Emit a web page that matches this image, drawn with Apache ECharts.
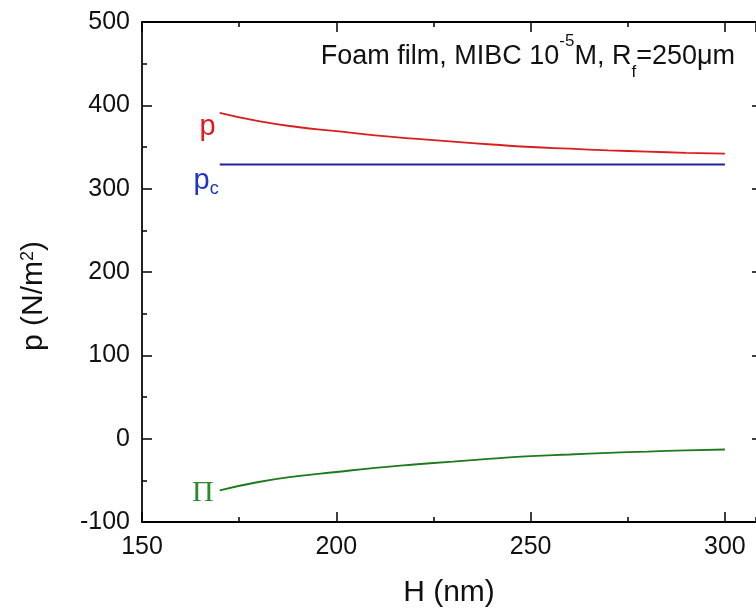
<!DOCTYPE html>
<html>
<head>
<meta charset="utf-8">
<script src="https://cdn.jsdelivr.net/npm/echarts@6/dist/echarts.min.js"></script>
<style>html,body{margin:0;padding:0;background:#fff}#c{width:756px;height:610px}</style>
</head>
<body>
<div id="c"></div>
<script>
// ---- data ----
const H = [170, 180, 190, 200, 210, 220, 230, 240, 250, 260, 270, 280, 290, 300];
const pValues = [391, 381, 374, 369, 364, 360, 356.5, 353, 350, 348, 346, 344.5, 343, 342];
const piValues = [-62, -52, -45, -40, -35, -31, -27.5, -24, -21, -19, -17, -15.5, -14, -13];
const pcH = [170, 300];
const pcValues = [329, 329];
const xTicks = [150, 200, 250, 300];
const yTicks = [-100, 0, 100, 200, 300, 400, 500];

const FONT = 'Liberation Sans, Arial, sans-serif';
const SERIF = 'Liberation Serif, Times New Roman, serif';

function withFirstLabel(xs, ys, label) {
  return xs.map((x, i) => i === 0 ? { value: [x, ys[i]], label: label } : [x, ys[i]]);
}

const gridRect = { left: 142, top: 22, right: 0, bottom: 88, containLabel: false, outerBoundsMode: 'none' };
const xMin = xTicks[0], xMax = 308;
const yMin = yTicks[0], yMax = yTicks[yTicks.length - 1];

const chart = echarts.init(document.getElementById('c'));
const option = {
  animation: false,
  backgroundColor: '#fff',
  grid: [Object.assign({}, gridRect), Object.assign({}, gridRect)],
  xAxis: [
    { gridIndex: 0, type: 'value', position: 'bottom', min: xMin, max: xMax, interval: 50,
      name: 'H (nm)', nameLocation: 'middle', nameGap: 56,
      nameTextStyle: { fontFamily: FONT, fontSize: 30, color: '#111' },
      axisLine: { onZero: false, lineStyle: { color: '#000', width: 2 } },
      axisTick: { inside: true, length: 10, lineStyle: { color: '#000', width: 1.5 } },
      axisLabel: { showMaxLabel: false, fontFamily: FONT, fontSize: 25, color: '#111', margin: 13 },
      splitLine: { show: false } },
    { gridIndex: 0, type: 'value', position: 'top', min: xMin, max: xMax, interval: 50,
      axisLine: { onZero: false, lineStyle: { color: '#000', width: 2 } },
      axisTick: { inside: true, length: 10, lineStyle: { color: '#000', width: 1.5 } },
      axisLabel: { show: false }, splitLine: { show: false } },
    { gridIndex: 1, type: 'value', position: 'bottom', min: xMin, max: xMax, interval: 25,
      axisLine: { show: false, onZero: false },
      axisTick: { inside: true, length: 5, lineStyle: { color: '#000', width: 1.5 } },
      axisLabel: { show: false }, splitLine: { show: false } },
    { gridIndex: 1, type: 'value', position: 'top', min: xMin, max: xMax, interval: 25,
      axisLine: { show: false, onZero: false },
      axisTick: { inside: true, length: 5, lineStyle: { color: '#000', width: 1.5 } },
      axisLabel: { show: false }, splitLine: { show: false } }
  ],
  yAxis: [
    { gridIndex: 0, type: 'value', position: 'left', min: yMin, max: yMax, interval: 100,
      name: 'p (N/m{sup|2})', nameLocation: 'middle', nameGap: 93,
      nameTextStyle: { fontFamily: FONT, fontSize: 30, color: '#111', padding: [0, 48, 0, 0],
        rich: { sup: { fontFamily: FONT, fontSize: 18, color: '#111', verticalAlign: 'top', lineHeight: 20 } } },
      axisLine: { onZero: false, lineStyle: { color: '#222', width: 2 } },
      axisTick: { inside: true, length: 10, lineStyle: { color: '#000', width: 1.5 } },
      minorTick: { show: true, splitNumber: 2, length: 5, lineStyle: { color: '#000', width: 1.5 } },
      axisLabel: { fontFamily: FONT, fontSize: 25, color: '#111', margin: 12 },
      splitLine: { show: false } },
    { gridIndex: 0, type: 'value', position: 'right', min: yMin, max: yMax, interval: 100,
      axisLine: { show: false, onZero: false },
      axisTick: { inside: true, length: 4, lineStyle: { color: '#000', width: 1.5 } },
      axisLabel: { show: false }, splitLine: { show: false } },
    { gridIndex: 1, type: 'value', min: yMin, max: yMax, show: false }
  ],
  series: [
    { type: 'line', xAxisIndex: 0, yAxisIndex: 0, showSymbol: true, symbol: 'circle', symbolSize: 0, smooth: true,
      lineStyle: { color: '#d81e1e', width: 1.8 },
      data: withFirstLabel(H, pValues, { show: true, position: 'left', distance: 4, offset: [0, 14],
        formatter: 'p', fontFamily: FONT, fontSize: 29, color: '#e3191c' }) },
    { type: 'line', xAxisIndex: 0, yAxisIndex: 0, showSymbol: true, symbol: 'circle', symbolSize: 0,
      lineStyle: { color: '#1f2399', width: 1.8 },
      data: withFirstLabel(pcH, pcValues, { show: true, position: 'left', distance: 1, offset: [0, 16],
        formatter: '{a|p}{b|c}',
        rich: { a: { fontFamily: FONT, fontSize: 29, color: '#1d35c9', lineHeight: 36 },
                b: { fontFamily: FONT, fontSize: 18, color: '#1d35c9', lineHeight: 18, verticalAlign: 'bottom' } } }) },
    { type: 'line', xAxisIndex: 0, yAxisIndex: 0, showSymbol: true, symbol: 'circle', symbolSize: 0, smooth: true,
      lineStyle: { color: '#1e7a1e', width: 1.8 },
      data: withFirstLabel(H, piValues, { show: true, position: 'left', distance: 6, offset: [0, 3],
        formatter: 'Π', fontFamily: SERIF, fontSize: 30, color: '#2b8b2b' }) }
  ],
  graphic: [
    { type: 'text', right: 21, top: 33, z: 10,
      style: {
        text: 'Foam film, MIBC 10{sup|-5}M, R{sub|f}=250μm',
        fontFamily: FONT, fontSize: 27, fill: '#111', lineHeight: 48,
        rich: {
          sup: { fontFamily: FONT, fontSize: 17, fill: '#111', lineHeight: 36, verticalAlign: 'top' },
          sub: { fontFamily: FONT, fontSize: 17, fill: '#111', lineHeight: 18, verticalAlign: 'bottom' }
        }
      } }
  ]
};
chart.setOption(option);
</script>
</body>
</html>
